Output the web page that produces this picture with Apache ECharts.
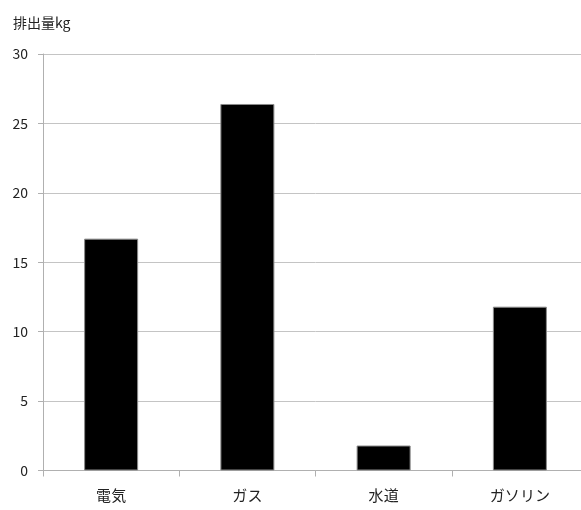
<!DOCTYPE html>
<html>
<head>
<meta charset="utf-8">
<script src="https://cdn.jsdelivr.net/npm/echarts@6/dist/echarts.min.js"></script>
<style>
  html, body { margin: 0; padding: 0; background: #fff; overflow: hidden; width: 581px; height: 510px; }
  /* the plot runs a few pixels past the right edge of the window */
  #chart { width: 588px; height: 510px; }
</style>
</head>
<body>
<div id="chart"></div>
<script>
// CO2 emissions by source (kg)
const categories = ['電気', 'ガス', '水道', 'ガソリン'];
const emissions = [16.7, 26.4, 1.8, 11.8];
const yTicks = { min: 0, max: 30, interval: 5 };
const yAxisName = '排出量kg';

const FONT = '"Noto Sans CJK JP", "Noto Sans", sans-serif';

const chart = echarts.init(document.getElementById('chart'), null, { renderer: 'canvas' });
chart.setOption({
  animation: false,
  backgroundColor: '#ffffff',
  grid: { left: 43, right: 0, top: 54, bottom: 39.5, containLabel: false },
  xAxis: {
    type: 'category',
    data: categories,
    axisLine: { show: true, lineStyle: { color: '#b0b0b0', width: 1 } },
    axisTick: { show: true, length: 6, lineStyle: { color: '#b0b0b0' } },
    axisLabel: { color: '#222', fontSize: 15, fontFamily: FONT, margin: 17 },
    splitLine: { show: false }
  },
  yAxis: {
    type: 'value',
    min: yTicks.min,
    max: yTicks.max,
    interval: yTicks.interval,
    name: yAxisName,
    nameLocation: 'end',
    nameGap: 24,
    nameTextStyle: { color: '#222', fontSize: 14, fontFamily: FONT, align: 'left', padding: [0, 0, 0, -30] },
    axisLine: { show: true, lineStyle: { color: '#b0b0b0', width: 1 } },
    axisTick: { show: true, length: 5, lineStyle: { color: '#b0b0b0' } },
    axisLabel: { color: '#222', fontSize: 14, fontFamily: FONT, margin: 15 },
    splitLine: { show: true, lineStyle: { color: '#c4c4c4', width: 1 } }
  },
  series: [{
    type: 'bar',
    data: emissions,
    barWidth: 54,
    itemStyle: { color: '#000000', borderColor: '#8a8a8a', borderWidth: 1 }
  }]
});
</script>
</body>
</html>
